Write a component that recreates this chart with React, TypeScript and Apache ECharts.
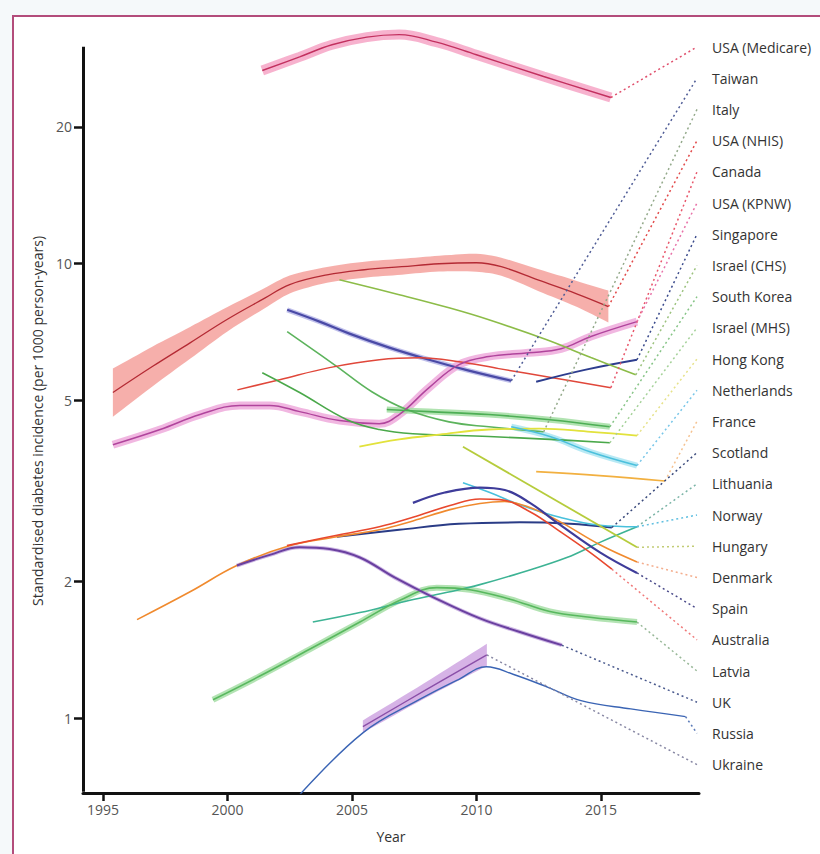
import React, { useEffect, useRef } from "react";
import * as echarts from "echarts";

// ---------- axes ----------
const X_TICKS = [1995, 2000, 2005, 2010, 2015];
const Y_TICKS = [1, 2, 5, 10, 20];
const X_MIN = 1994.2;
const X_MAX = 2018.94;
const Y_MIN = 0.686;
const Y_MAX = 34;
const Y_AXIS_TOP = 30;

// ---------- data (standardised incidence per 1000 person-years) ----------
const medicareYears = [2001.4, 2002.9, 2004.2, 2005.6, 2006.9, 2008.4, 2010.0, 2012.7, 2015.4];
const medicareRate = [26.6, 28.5, 30.3, 31.5, 31.9, 30.7, 28.8, 25.8, 23.2];

const taiwanYears = [2002.4, 2003.7, 2004.9, 2006.5, 2008.1, 2009.7, 2011.4];
const taiwanRate = [7.92, 7.46, 7.02, 6.54, 6.15, 5.82, 5.53];

const italyYears = [2002.4, 2004.4, 2005.8, 2007.2, 2008.9, 2010.5, 2012.7];
const italyRate = [7.09, 5.94, 5.23, 4.78, 4.49, 4.38, 4.27];

const nhisYears = [1995.4, 1997, 1998.5, 2000, 2001.5, 2002.5, 2004, 2005.5, 2007, 2008.5, 2010, 2011, 2012.5, 2014, 2015.3];
const nhisRate = [5.21, 5.95, 6.7, 7.55, 8.4, 9.0, 9.45, 9.7, 9.85, 10.0, 10.05, 9.85, 9.2, 8.6, 8.05];
const nhisLower = [4.61, 5.38, 6.18, 7.1, 7.98, 8.6, 9.08, 9.32, 9.46, 9.61, 9.6, 9.41, 8.7, 8.05, 7.43];
const nhisUpper = [5.88, 6.58, 7.26, 8.03, 8.84, 9.42, 9.84, 10.1, 10.25, 10.41, 10.52, 10.31, 9.72, 9.18, 8.73];

const canadaYears = [2000.4, 2002.1, 2004.1, 2006.1, 2007.7, 2009.3, 2010.9, 2013.0, 2015.4];
const canadaRate = [5.28, 5.56, 5.91, 6.15, 6.21, 6.09, 5.88, 5.62, 5.34];

const kpnwYears = [1995.4, 1997.3, 1998.9, 2000.5, 2001.7, 2002.9, 2004.5, 2006.1, 2006.9, 2008.1, 2009.3, 2010.5, 2012.1, 2013.4, 2014.6, 2016.45];
const kpnwRate = [4.0, 4.32, 4.66, 4.88, 4.88, 4.73, 4.52, 4.45, 4.66, 5.34, 6.0, 6.25, 6.37, 6.5, 6.92, 7.46];

const singaporeYears = [2012.4, 2014.4, 2016.45];
const singaporeRate = [5.5, 5.85, 6.15];

const israelChsYears = [2004.5, 2006.9, 2008.9, 2010.5, 2012.8, 2014.6, 2016.4];
const israelChsRate = [9.22, 8.55, 8.0, 7.53, 6.81, 6.22, 5.7];

const koreaYears = [2006.4, 2008.1, 2010.5, 2012.95, 2015.36];
const koreaRate = [4.78, 4.73, 4.66, 4.54, 4.38];

const israelMhsYears = [2001.4, 2002.9, 2004.8, 2006.1, 2007.45, 2010.5, 2012.95, 2015.36];
const israelMhsRate = [5.76, 5.21, 4.54, 4.32, 4.23, 4.17, 4.11, 4.04];

const hongKongYears = [2005.3, 2006.9, 2008.5, 2010.5, 2012.55, 2014.6, 2016.45];
const hongKongRate = [3.96, 4.11, 4.21, 4.32, 4.34, 4.27, 4.19];

const netherlandsYears = [2011.4, 2012.95, 2014.56, 2016.45];
const netherlandsRate = [4.38, 4.17, 3.86, 3.6];

const franceYears = [2012.4, 2014.95, 2017.57];
const franceRate = [3.49, 3.42, 3.33];

const scotlandYears = [2004.4, 2006.9, 2009.3, 2011.75, 2013.75, 2015.44];
const scotlandRate = [2.51, 2.6, 2.68, 2.7, 2.68, 2.63];

const lithuaniaYears = [2003.43, 2005.32, 2007.33, 2008.94, 2010.14, 2011.75, 2013.63, 2014.96, 2016.45];
const lithuaniaRate = [1.63, 1.71, 1.82, 1.9, 1.97, 2.09, 2.26, 2.44, 2.64];

const norwayYears = [2009.46, 2010.54, 2011.75, 2013.35, 2014.96, 2016.45];
const norwayRate = [3.3, 3.14, 2.95, 2.77, 2.66, 2.64];

const hungaryYears = [2009.46, 2016.45];
const hungaryRate = [3.96, 2.38];

const denmarkYears = [1996.37, 1998.5, 2000.38, 2002.39, 2004.4, 2006.1, 2007.45, 2008.94, 2010.14, 2011.14, 2012.15, 2013.35, 2014.96, 2016.45];
const denmarkRate = [1.65, 1.9, 2.17, 2.39, 2.51, 2.6, 2.72, 2.88, 2.97, 3.0, 2.91, 2.71, 2.41, 2.21];

const spainYears = [2007.45, 2008.73, 2010.14, 2011.14, 2012.15, 2013.35, 2014.96, 2016.45];
const spainRate = [2.98, 3.14, 3.22, 3.18, 2.98, 2.67, 2.32, 2.09];

const australiaYears = [2002.39, 2004.4, 2006.1, 2007.45, 2008.94, 2010.14, 2010.94, 2012.15, 2013.35, 2014.56, 2015.44];
const australiaRate = [2.4, 2.53, 2.64, 2.77, 2.94, 3.04, 3.03, 2.85, 2.58, 2.32, 2.13];

const latviaYears = [1999.42, 2001.3, 2003.3, 2005.32, 2006.93, 2008.41, 2009.74, 2011.35, 2012.95, 2014.56, 2016.45];
const latviaRate = [1.1, 1.24, 1.42, 1.63, 1.82, 1.94, 1.92, 1.83, 1.72, 1.67, 1.63];

const ukYears = [2000.38, 2001.7, 2002.9, 2004.1, 2005.32, 2006.73, 2008.25, 2010.14, 2011.75, 2013.43];
const ukRate = [2.17, 2.29, 2.38, 2.36, 2.26, 2.04, 1.85, 1.66, 1.55, 1.45];

const russiaYears = [2002.85, 2005.44, 2007.7, 2009.3, 2010.4, 2011.5, 2012.9, 2014.2, 2016.2, 2018.4];
const russiaRate = [0.675, 0.93, 1.1, 1.22, 1.3, 1.25, 1.17, 1.095, 1.05, 1.01];

const ukraineYears = [2005.44, 2007.9, 2010.42];
const ukraineRate = [0.96, 1.15, 1.38];
const ukraineLower = [0.93, 1.105, 1.305];
const ukraineUpper = [0.99, 1.195, 1.46];

// ---------- layout / style ----------
const FONT = '"Open Sans", "Noto Sans", sans-serif';
const LABEL_X = 712;
const CONN_X = 697;
const LABEL_Y0 = 47;
const LABEL_DY = 31.2;

type LineDef = {
  name: string;
  years: number[];
  vals: number[];
  lo?: number[];
  hi?: number[];
  color: string;
  width: number;
  conn: string;
  band?: string;
  bandWidth?: number;
  fill?: string;
};

const LINES: LineDef[] = [
  { name: "USA (Medicare)", years: medicareYears, vals: medicareRate, color: "#c2305f", width: 1.4, conn: "#e04f6c", band: "#f6a4c5", bandWidth: 10 },
  { name: "Taiwan", years: taiwanYears, vals: taiwanRate, color: "#4a4aa6", width: 2.2, conn: "#4f5c96", band: "#b6b6e8", bandWidth: 5 },
  { name: "Italy", years: italyYears, vals: italyRate, color: "#5cb35c", width: 1.6, conn: "#93a98a" },
  { name: "USA (NHIS)", years: nhisYears, vals: nhisRate, lo: nhisLower, hi: nhisUpper, color: "#b42a34", width: 1.3, conn: "#e24a4a", fill: "#f4a19c" },
  { name: "Canada", years: canadaYears, vals: canadaRate, color: "#e0473a", width: 1.5, conn: "#e8566a" },
  { name: "USA (KPNW)", years: kpnwYears, vals: kpnwRate, color: "#b0449c", width: 1.5, conn: "#e872a8", band: "#eeaadc", bandWidth: 8 },
  { name: "Singapore", years: singaporeYears, vals: singaporeRate, color: "#2d3d8e", width: 2, conn: "#3a4a8c" },
  { name: "Israel (CHS)", years: israelChsYears, vals: israelChsRate, color: "#8cbc48", width: 1.6, conn: "#9cc27e" },
  { name: "South Korea", years: koreaYears, vals: koreaRate, color: "#4dae55", width: 1.6, conn: "#86c486", band: "#a3dea3", bandWidth: 6 },
  { name: "Israel (MHS)", years: israelMhsYears, vals: israelMhsRate, color: "#4aa84a", width: 1.6, conn: "#a6d29a" },
  { name: "Hong Kong", years: hongKongYears, vals: hongKongRate, color: "#e2e23c", width: 1.8, conn: "#e6e28a" },
  { name: "Netherlands", years: netherlandsYears, vals: netherlandsRate, color: "#4cc0dc", width: 1.6, conn: "#78c6e8", band: "#abe5f2", bandWidth: 6 },
  { name: "France", years: franceYears, vals: franceRate, color: "#f2b040", width: 1.6, conn: "#f5c290" },
  { name: "Scotland", years: scotlandYears, vals: scotlandRate, color: "#2a3c86", width: 2, conn: "#3a4a7c" },
  { name: "Lithuania", years: lithuaniaYears, vals: lithuaniaRate, color: "#3db394", width: 1.6, conn: "#7ab4a6" },
  { name: "Norway", years: norwayYears, vals: norwayRate, color: "#48c0dc", width: 1.6, conn: "#5fbfe0" },
  { name: "Hungary", years: hungaryYears, vals: hungaryRate, color: "#b6cc3c", width: 1.8, conn: "#c2cc74" },
  { name: "Denmark", years: denmarkYears, vals: denmarkRate, color: "#f08a2e", width: 1.6, conn: "#f4ae8e" },
  { name: "Spain", years: spainYears, vals: spainRate, color: "#3e3c9a", width: 2.2, conn: "#4a4a8a" },
  { name: "Australia", years: australiaYears, vals: australiaRate, color: "#e8482e", width: 1.6, conn: "#f07878" },
  { name: "Latvia", years: latviaYears, vals: latviaRate, color: "#58b85e", width: 1.6, conn: "#98b898", band: "#a6dea6", bandWidth: 6 },
  { name: "UK", years: ukYears, vals: ukRate, color: "#6a40a0", width: 2, conn: "#4a5a8e", band: "#c6acdf", bandWidth: 4 },
  { name: "Russia", years: russiaYears, vals: russiaRate, color: "#3a64b4", width: 1.4, conn: "#5a7ab8" },
  { name: "Ukraine", years: ukraineYears, vals: ukraineRate, lo: ukraineLower, hi: ukraineUpper, color: "#8a4fa8", width: 1.4, conn: "#8888a4", fill: "#cfa6e2" },
];

const pts = (xs: number[], ys: number[]) => xs.map((x, i) => [x, ys[i]]);

function bandRenderer(fill: string) {
  return (params: any, api: any) => {
    if (params.dataIndexInside !== 0) return null;
    const n = params.dataInsideLength;
    const top: number[][] = [];
    const bottom: number[][] = [];
    for (let k = 0; k < n; k++) {
      const x = api.value(0, k);
      top.push(api.coord([x, api.value(2, k)]));
      bottom.push(api.coord([x, api.value(1, k)]));
    }
    // duplicate end vertices so the band ends stay square under smoothing
    const t = [top[0], ...top, top[n - 1]];
    const b = [bottom[0], ...bottom, bottom[n - 1]].reverse();
    return {
      type: "polygon",
      shape: { points: t.concat(b), smooth: 0.3 },
      style: { fill, opacity: 0.85 },
      silent: true,
    };
  };
}

function buildOption() {
  const series: any[] = [];
  // bands first
  LINES.forEach((l) => {
    if (l.lo && l.hi) {
      series.push({
        type: "custom", name: l.name + " band", silent: true, z: 1,
        data: l.years.map((y, j) => [y, l.lo![j], l.hi![j]]),
        encode: { x: 0, y: [1, 2] },
        renderItem: bandRenderer(l.fill!),
      });
    } else if (l.band) {
      series.push({
        type: "line", name: l.name + " band", data: pts(l.years, l.vals),
        symbol: "none", smooth: 0.4, silent: true,
        lineStyle: { color: l.band, width: l.bandWidth, opacity: 0.85, cap: "butt" }, z: 1,
      });
    }
  });
  // lines with connectors
  LINES.forEach((l, i) => {
    const n = l.years.length - 1;
    series.push({
      type: "line", name: l.name, data: pts(l.years, l.vals),
      symbol: "none", smooth: 0.4, silent: true,
      lineStyle: { color: l.color, width: l.width }, z: 2,
      markLine: {
        silent: true, symbol: ["none", "none"], label: { show: false },
        lineStyle: { color: l.conn, type: [2, 3], width: 1.5 },
        emphasis: { disabled: true },
        data: [[{ coord: [l.years[n], l.vals[n]] }, { x: CONN_X, y: LABEL_Y0 + i * LABEL_DY }]],
      },
    });
  });
  // y axis line (stops at 30)
  series.push({
    type: "line", name: "axis", data: [[X_MIN, 1]], symbol: "none", clip: false, silent: true,
    lineStyle: { opacity: 0 },
    markLine: {
      silent: true, symbol: ["none", "none"], label: { show: false },
      lineStyle: { color: "#111", width: 3, type: "solid" },
      emphasis: { disabled: true },
      data: [[{ coord: [X_MIN, 0.69] }, { coord: [X_MIN, Y_AXIS_TOP] }]],
    },
  });

  const graphics: any[] = LINES.map((l, i) => ({
    type: "text", x: LABEL_X, y: LABEL_Y0 + i * LABEL_DY, silent: true,
    style: { text: l.name, font: `14px ${FONT}`, fill: "#333", align: "left", verticalAlign: "middle" },
  }));
  graphics.push({
    type: "text", x: 37, y: 421, rotation: Math.PI / 2, silent: true,
    style: {
      text: "Standardised diabetes incidence (per 1000 person-years)",
      font: `14px ${FONT}`, fill: "#333", align: "center", verticalAlign: "middle",
    },
  });

  return {
    animation: false,
    backgroundColor: "transparent",
    grid: { left: 83, right: 121, top: 22, bottom: 61, containLabel: false, outerBoundsMode: "none" },
    xAxis: {
      type: "value", min: X_MIN, max: X_MAX,
      name: "Year", nameLocation: "middle", nameGap: 36,
      nameTextStyle: { fontFamily: FONT, fontSize: 14, color: "#333" },
      axisLine: { show: true, lineStyle: { color: "#111", width: 3 } },
      axisTick: { show: true, customValues: X_TICKS, length: 8, lineStyle: { color: "#111", width: 2.5 } },
      axisLabel: { customValues: X_TICKS, margin: 9, fontFamily: FONT, fontSize: 14, color: "#555", formatter: (v: number) => String(Math.round(v)) },
      splitLine: { show: false },
    },
    yAxis: {
      type: "log", logBase: 10, min: Y_MIN, max: Y_MAX,
      axisLine: { show: false },
      axisTick: { show: true, customValues: Y_TICKS, length: 9, lineStyle: { color: "#111", width: 2.5 } },
      axisLabel: { customValues: Y_TICKS, margin: 11, fontFamily: FONT, fontSize: 14, color: "#555", formatter: (v: number) => String(Math.round(v)) },
      splitLine: { show: false },
      minorTick: { show: false },
    },
    graphic: { elements: graphics },
    series,
  };
}

export default function App() {
  const ref = useRef<HTMLDivElement>(null);
  useEffect(() => {
    if (!ref.current) return;
    const chart = echarts.init(ref.current, undefined, { renderer: "svg" });
    chart.setOption(buildOption() as any);
    return () => chart.dispose();
  }, []);
  return (
    <div style={{ position: "absolute", left: 0, top: 0, width: 820, height: 854, background: "#f5f9fa", overflow: "hidden" }}>
      <div style={{ position: "absolute", left: 12, top: 15, width: 830, height: 860, background: "#fff", borderTop: "2px solid #b34d7b", borderLeft: "2px solid #b34d7b" }} />
      <div ref={ref} style={{ position: "absolute", left: 0, top: 0, width: 820, height: 854 }} />
    </div>
  );
}
